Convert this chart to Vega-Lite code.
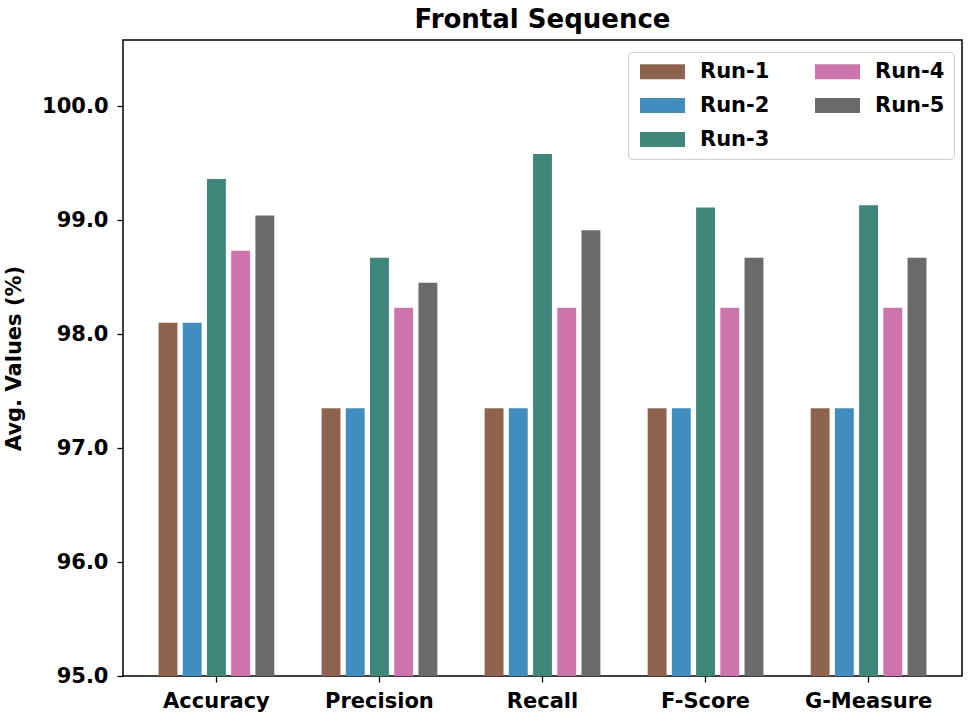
{
  "$schema": "https://vega.github.io/schema/vega-lite/v6.json",
  "width": 839,
  "height": 636,
  "autosize": {"type": "none"},
  "padding": {"left": 123, "top": 40, "right": 13, "bottom": 43},
  "title": {"text": "Frontal Sequence", "font": "DejaVu Sans", "fontSize": 26, "fontWeight": "bold", "color": "black", "anchor": "middle", "offset": 7},
  "data": {"values": [
    {"metric": "Accuracy", "run": "Run-1", "value": 98.10},
    {"metric": "Accuracy", "run": "Run-2", "value": 98.10},
    {"metric": "Accuracy", "run": "Run-3", "value": 99.36},
    {"metric": "Accuracy", "run": "Run-4", "value": 98.73},
    {"metric": "Accuracy", "run": "Run-5", "value": 99.04},
    {"metric": "Precision", "run": "Run-1", "value": 97.35},
    {"metric": "Precision", "run": "Run-2", "value": 97.35},
    {"metric": "Precision", "run": "Run-3", "value": 98.67},
    {"metric": "Precision", "run": "Run-4", "value": 98.23},
    {"metric": "Precision", "run": "Run-5", "value": 98.45},
    {"metric": "Recall", "run": "Run-1", "value": 97.35},
    {"metric": "Recall", "run": "Run-2", "value": 97.35},
    {"metric": "Recall", "run": "Run-3", "value": 99.58},
    {"metric": "Recall", "run": "Run-4", "value": 98.23},
    {"metric": "Recall", "run": "Run-5", "value": 98.91},
    {"metric": "F-Score", "run": "Run-1", "value": 97.35},
    {"metric": "F-Score", "run": "Run-2", "value": 97.35},
    {"metric": "F-Score", "run": "Run-3", "value": 99.11},
    {"metric": "F-Score", "run": "Run-4", "value": 98.23},
    {"metric": "F-Score", "run": "Run-5", "value": 98.67},
    {"metric": "G-Measure", "run": "Run-1", "value": 97.35},
    {"metric": "G-Measure", "run": "Run-2", "value": 97.35},
    {"metric": "G-Measure", "run": "Run-3", "value": 99.13},
    {"metric": "G-Measure", "run": "Run-4", "value": 98.23},
    {"metric": "G-Measure", "run": "Run-5", "value": 98.67}
  ]},
  "mark": {"type": "bar"},
  "encoding": {
    "x": {
      "field": "metric", "type": "nominal",
      "sort": ["Accuracy", "Precision", "Recall", "F-Score", "G-Measure"],
      "scale": {"paddingInner": 0.29, "paddingOuter": 0.218},
      "axis": {"title": null, "labelAngle": 0, "domain": false, "grid": false, "tickSize": 6, "tickColor": "black", "tickWidth": 1.3, "labelFont": "DejaVu Sans", "labelFontSize": 21, "labelFontWeight": "bold", "labelColor": "black", "labelPadding": 8}
    },
    "xOffset": {
      "field": "run", "type": "nominal",
      "sort": ["Run-1", "Run-2", "Run-3", "Run-4", "Run-5"],
      "scale": {"paddingInner": 0.22, "paddingOuter": 0}
    },
    "y": {
      "field": "value", "type": "quantitative",
      "scale": {"domain": [95, 100.58], "nice": false, "zero": false},
      "axis": {"title": "Avg. Values (%)", "values": [95, 96, 97, 98, 99, 100], "format": ".1f", "domain": false, "grid": false, "tickSize": 6, "tickColor": "black", "tickWidth": 1.3, "labelFont": "DejaVu Sans", "labelFontSize": 21, "labelFontWeight": "bold", "labelColor": "black", "labelPadding": 9, "titleFont": "DejaVu Sans", "titleFontSize": 21, "titleFontWeight": "bold", "titleColor": "black", "titlePadding": 17}
    },
    "y2": {"datum": 95},
    "color": {
      "field": "run", "type": "nominal",
      "scale": {"domain": ["Run-1", "Run-2", "Run-3", "Run-4", "Run-5"], "range": ["#8f644e", "#408ec0", "#3e877a", "#cd74ad", "#6a6a6a"]},
      "legend": {"orient": "none", "legendX": 505, "legendY": 12, "columns": 2, "title": null, "symbolType": "M-1,-1H5V1H-1Z", "symbolSize": 225, "symbolStrokeWidth": 0, "symbolOpacity": 1, "labelFont": "DejaVu Sans", "labelFontSize": 21, "labelFontWeight": "bold", "labelColor": "black", "labelOffset": 42, "columnPadding": 42, "rowPadding": 12, "padding": 9, "strokeColor": "#cccccc", "fillColor": "white", "cornerRadius": 4}
    }
  },
  "config": {"view": {"stroke": "black", "strokeWidth": 1.5}}
}
